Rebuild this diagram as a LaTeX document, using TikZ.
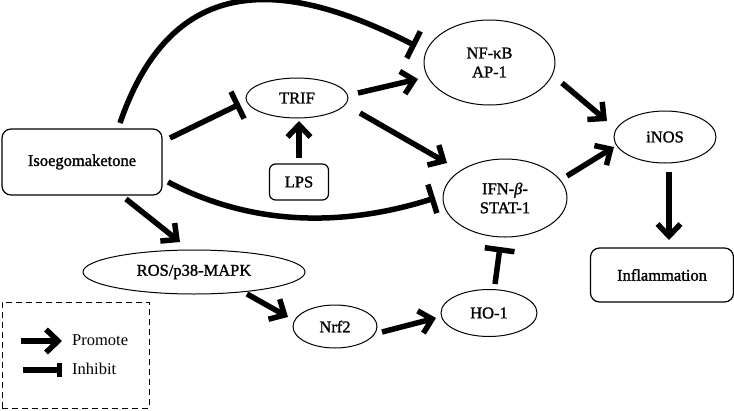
\documentclass[tikz,border=0pt]{standalone}
\usepackage{fontspec}
\setmainfont{Liberation Serif}
\newfontfamily\nodefont[FakeBold=1.3]{Liberation Serif}
\usetikzlibrary{shapes.geometric,arrows.meta,calc}
\begin{document}
\begin{tikzpicture}[x=1pt,y=-1pt,
  every node/.style={font=\nodefont\fontsize{16.5}{19}\selectfont},
  oval/.style={draw, ellipse, line width=1pt, inner sep=0pt, align=center},
  rbox/.style={draw, rounded corners=9pt, line width=1.2pt, inner sep=0pt},
  promote/.style={line width=5.5pt, -{Straight Barb[length=12pt,width=23pt]}},
  inhibit/.style={line width=5.5pt, -{Bar[width=30pt]}},
  legtext/.style={anchor=west, inner sep=0pt, font=\fontsize{16.5}{19}\selectfont},
]
\useasboundingbox (0,0) rectangle (734,410);

\node[rbox, minimum width=160pt, minimum height=66pt] (iso) at (82,162) {Isoegomaketone};
\node[oval, minimum width=102pt, minimum height=40pt] (trif) at (297,98) {TRIF};
\node[rbox, rounded corners=6pt, minimum width=59pt, minimum height=36pt] (lps) at (299,182) {LPS};
\node[oval, minimum width=131pt, minimum height=85pt] (nfkb) at (489.5,62.5) {NF-κB\\AP-1};
\node[oval, minimum width=124pt, minimum height=78pt] (ifn) at (505,198) {IFN-\textit{β}-\\STAT-1};
\node[oval, minimum width=102pt, minimum height=52pt] (inos) at (665,137) {iNOS};
\node[rbox, minimum width=143pt, minimum height=54pt] (infl) at (662,275) {Inflammation};
\node[oval, minimum width=96pt, minimum height=47pt] (ho1) at (489,313) {HO-1};
\node[oval, minimum width=222pt, minimum height=44pt] (ros) at (194,272) {ROS/p38-MAPK};
\node[oval, minimum width=84pt, minimum height=43pt] (nrf2) at (335,326.5) {Nrf2};

% connectors
\draw[inhibit] ($(iso.center)+(38,-39)$) .. controls +(55,-160) and +(-122,-62) .. ($(nfkb.center)+(-73.5,-16.5)$);
\draw[inhibit] ($(iso.center)+(88,-24)$) -- ($(trif.center)+(-57,6)$);
\draw[promote] ($(lps.center)+(0,-24)$) -- ($(trif.center)+(2,23)$);
\draw[promote] ($(trif.center)+(61,-5)$) -- ($(nfkb.center)+(-71.5,16.5)$);
\draw[promote] ($(trif.center)+(63,15)$) -- ($(ifn.center)+(-58,-35)$);
\draw[inhibit] ($(iso.center)+(86,20)$) .. controls +(82,43) and +(-95,30) .. ($(ifn.center)+(-70,0)$);
\draw[promote] ($(iso.center)+(44,37)$) -- ($(ros.center)+(-14,-30)$);
\draw[promote] ($(ros.center)+(53,22)$) -- ($(nrf2.center)+(-47,-9.5)$);
\draw[promote] ($(nrf2.center)+(47,5.5)$) -- ($(ho1.center)+(-53,5)$);
\draw[inhibit] ($(ho1.center)+(6,-29)$) -- ($(ifn.center)+(-5,49)$);
\draw[promote] ($(nfkb.center)+(72.5,20.5)$) -- ($(inos.center)+(-58,-16)$);
\draw[promote] ($(ifn.center)+(62,-22)$) -- ($(inos.center)+(-51,10)$);
\draw[promote] ($(inos.center)+(4,35)$) -- ($(infl.center)+(7,-35)$);

% legend
\node[draw, dash pattern=on 6pt off 4pt, line width=1pt, minimum width=147pt, minimum height=106pt, inner sep=0pt] (legend) at (75.5,355) {};
\coordinate (pa) at (21,341);
\coordinate (pb) at (62,341);
\coordinate (ia) at (23,370);
\coordinate (ib) at (62,370);
\draw[promote] (pa) -- (pb);
\draw[line width=5.5pt, -{Bar[width=14pt]}] (ia) -- (ib);
\node[legtext] (tp) at (72,340) {Promote};
\node[legtext] (ti) at (72,369) {Inhibit};
\end{tikzpicture}
\end{document}
